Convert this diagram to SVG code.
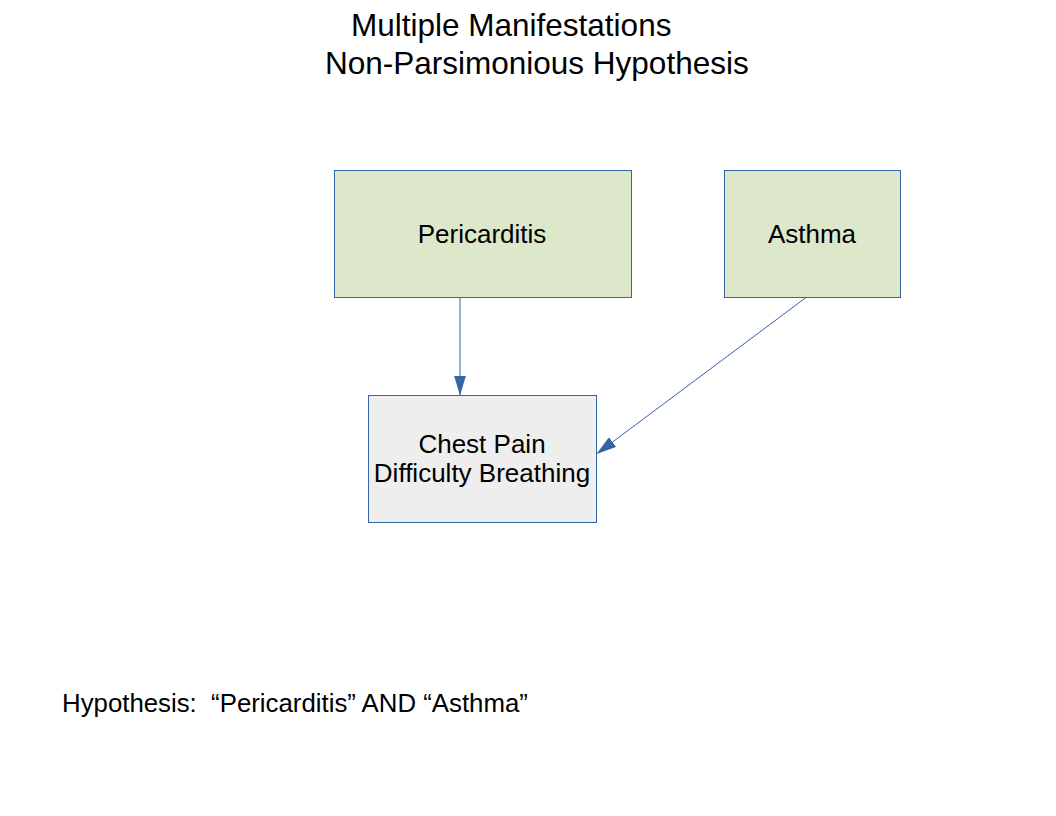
<svg xmlns="http://www.w3.org/2000/svg" width="1056" height="816" viewBox="0 0 1056 816">
<style>
text{font-family:"Liberation Sans",Arial,sans-serif;fill:#000;white-space:pre}
.box{stroke:#3465a4;stroke-width:1}
.g{fill:#dde7ca}
.n{font-size:26px;text-anchor:middle}
.c{stroke:#3465a4;stroke-width:1;fill:none}
</style>
<defs>
<marker id="ah" viewBox="0 0 20 12" refX="20" refY="6" markerWidth="20" markerHeight="12" markerUnits="userSpaceOnUse" orient="auto">
<path d="M0,0 L20,6 L0,12 Z" fill="#3465a4"/>
</marker>
</defs>
<rect width="1056" height="816" fill="#fff"/>
<g id="title">
<text x="351" y="36" font-size="31.5">Multiple Manifestations</text>
<text x="325" y="74" font-size="31.5">Non-Parsimonious Hypothesis</text>
</g>
<g id="connectors">
<line class="c" x1="460" y1="297.5" x2="460" y2="395.5" marker-end="url(#ah)"/>
<line class="c" x1="806" y1="297.5" x2="596.5" y2="454" marker-end="url(#ah)"/>
</g>
<g id="pericarditis">
<rect class="box g" x="334.5" y="170.5" width="297" height="127"/>
<text class="n" x="482" y="243">Pericarditis</text>
</g>
<g id="asthma">
<rect class="box g" x="724.5" y="170.5" width="176" height="127"/>
<text class="n" x="812" y="243">Asthma</text>
</g>
<g id="symptoms">
<rect class="box" fill="#eeeeee" x="368.5" y="395.5" width="228" height="127"/>
<text class="n" x="482" y="453">Chest Pain</text>
<text class="n" x="482" y="482">Difficulty Breathing</text>
</g>
<g id="hypothesis">
<text x="62" y="712" font-size="25.8" xml:space="preserve">Hypothesis:  “Pericarditis” AND “Asthma”</text>
</g>
</svg>
